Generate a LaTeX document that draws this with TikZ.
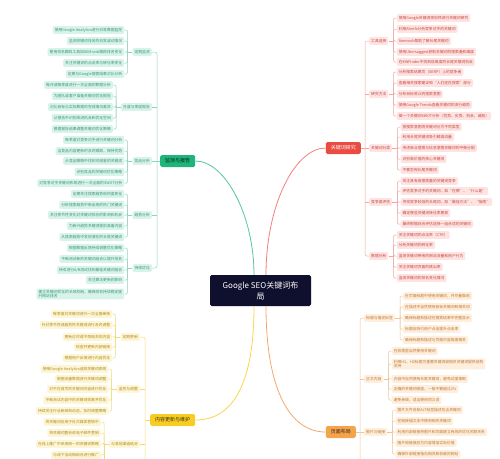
\documentclass[tikz,border=0pt]{standalone}
\usepackage{fontspec}
\setmainfont{Noto Sans CJK SC}
\usetikzlibrary{calc}
\definecolor{gfill}{HTML}{D8F3E9}
\definecolor{gtext}{HTML}{3A9777}
\definecolor{glinec}{HTML}{8FD6BE}
\definecolor{gmainc}{HTML}{1FB47A}
\definecolor{rfill}{HTML}{FDE3E1}
\definecolor{rtext}{HTML}{C9473F}
\definecolor{rlinec}{HTML}{F0A6A2}
\definecolor{rmainc}{HTML}{EA4B43}
\definecolor{yfill}{HTML}{FDF6D6}
\definecolor{ytext}{HTML}{B08A1A}
\definecolor{ylinec}{HTML}{F1DB78}
\definecolor{ymainc}{HTML}{F7CD25}
\definecolor{ofill}{HTML}{FDEEDD}
\definecolor{otext}{HTML}{C0782E}
\definecolor{olinec}{HTML}{F2C497}
\definecolor{omainc}{HTML}{F4A44C}
\definecolor{navy}{HTML}{0F0F2E}
\tikzset{
  leafbase/.style={rounded corners=1.2pt, inner xsep=2pt, inner ysep=1.4pt,
    minimum height=7.6pt, font=\fontsize{3.8}{4.6}\selectfont, align=left},
  gleaf/.style={leafbase, fill=gfill, text=gtext},
  glab/.style={leafbase, fill=gfill, text=gtext},
  gline/.style={draw=glinec, line width=0.5pt},
  rleaf/.style={leafbase, fill=rfill, text=rtext},
  rlab/.style={leafbase, fill=rfill, text=rtext},
  rline/.style={draw=rlinec, line width=0.5pt},
  yleaf/.style={leafbase, fill=yfill, text=ytext},
  ylab/.style={leafbase, fill=yfill, text=ytext},
  yline/.style={draw=ylinec, line width=0.5pt},
  oleaf/.style={leafbase, fill=ofill, text=otext},
  olab/.style={leafbase, fill=ofill, text=otext},
  oline/.style={draw=olinec, line width=0.5pt},
  mainbox/.style={rounded corners=1.6pt, inner xsep=5pt, inner ysep=2pt,
    minimum height=12pt, font=\fontsize{5}{6}\selectfont},
  centerbox/.style={rounded corners=1.6pt, fill=navy, text=white,
    minimum width=101pt, minimum height=31pt, align=center,
    font=\fontsize{8}{11}\selectfont},
  curve/.style={line width=0.8pt},
}
\newcommand\LeftGroup[6]{%
  \node[#5lab, anchor=east] (#1) at (#2,#3) {#4};
  \coordinate (#1b) at ($(#1.west)+(-5,0)$);
  \draw[#5line] (#1.west) -- (#1b);
  \foreach \yy/\leaftext [count=\i] in {#6}{%
    \node[#5leaf, anchor=east, yshift={(#3-\yy)*1pt}] (#1-\i) at ($(#1.west)+(-8,0)$) {\leaftext};
    \draw[#5line, rounded corners=1.2pt] (#1-\i.east) -| (#1b);
  }%
}
\newcommand\RightGroup[6]{%
  \node[#5lab, anchor=west] (#1) at (#2,#3) {#4};
  \coordinate (#1b) at ($(#1.east)+(5,0)$);
  \draw[#5line] (#1.east) -- (#1b);
  \foreach \yy/\leaftext [count=\i] in {#6}{%
    \node[#5leaf, anchor=west, yshift={(#3-\yy)*1pt}] (#1-\i) at ($(#1.east)+(8,0)$) {\leaftext};
    \draw[#5line, rounded corners=1.2pt] (#1-\i.west) -| (#1b);
  }%
}
\begin{document}
\begin{tikzpicture}[x=1pt,y=-1pt]
\fill[white] (0,0) rectangle (500,458);
\useasboundingbox (0,0) rectangle (500,458);

% centre and main branches
\node[centerbox] (c) at (260.5,290.5) {Google SEO关键词布\\局};
\node[mainbox, fill=gmainc, text=black!80!gmainc, anchor=west] (gmain) at (160,161) {监测与报告};
\node[mainbox, fill=rmainc, text=white, anchor=east] (rmain) at (361,148) {关键词研究};
\node[mainbox, fill=ymainc, text=black!75!ymainc, anchor=west] (ymain) at (150,420) {内容更新与维护};
\node[mainbox, fill=omainc, text=black!75!omainc, anchor=east] (omain) at (356,432) {页面布局};

\draw[curve, draw=gmainc!75] ([xshift=-6.5pt]c.north) .. controls (254,215) and (225,161) .. (gmain.east);
\draw[curve, draw=rmainc!70] ([xshift=5.5pt]c.north) .. controls (266,205) and (295,148) .. (rmain.west);
\draw[curve, draw=ymainc!80] ([xshift=-6.5pt]c.south) .. controls (254,380) and (235,420) .. (ymain.east);
\draw[curve, draw=omainc!80!rmainc!80] ([xshift=5.5pt]c.south) .. controls (266,390) and (290,432) .. (omain.west);

% ---------------- green: 监测与报告
\LeftGroup{g1}{152}{52}{定期监测}{g}{30/使用Google Analytics进行日常数据监控,41/监测关键词排名的日常波动情况,52/使用排名跟踪工具如SEMrush跟踪排名变化,63/关注关键词的点击率与转化率变化,74/定期与Google搜索结果对比分析}
\LeftGroup{g2}{152}{107}{月度与季度报告}{g}{85/每月或每季度进行一次全面的数据分析,96/为团队或客户准备关键词优化报告,107/对比目标与实际数据的完成情况差异,118/从报告中识别改进机会和优化空间,129/根据报告结果调整关键词优化策略}
\LeftGroup{g3}{152}{161}{竞品分析}{g}{140/每季度对竞争对手进行关键词分析,151/当竞品内容更新时及时跟踪，保持优势,161/从竞品策略中找到可借鉴的关键词,172/识别竞品的关键词优化策略,183/对竞争对手关键词布局进行一次全面的SWOT分析}
\LeftGroup{g4}{152}{215}{趋势分析}{g}{194/定期关注搜索趋势和热度变化,205/分析搜索趋势中新出现的热门关键词,215/关注季节性变化对关键词排名的影响和机会,226/为新兴趋势关键词提前准备内容,237/从搜索趋势中发现潜在的长尾关键词}
\LeftGroup{g5}{152}{268}{持续优化}{g}{248/根据数据反馈持续调整优化策略,259/不断测试新的关键词组合以提升排名,270/持续进行{A/B}测试找到最佳关键词组合,280/关注算法更新的影响,294/建立关键词优化的长效机制，确保排名持续稳定提\\升网站排名}
\coordinate (gtrunk) at ([xshift=-3pt]gmain.west);
\draw[gline, rounded corners=2pt] (g1.east) -| (gtrunk) |- (g5.east);
\draw[gline] (g2.east) -- (g2.east -| gtrunk);
\draw[gline] (g3.east) -- (g3.east -| gtrunk);
\draw[gline] (g4.east) -- (g4.east -| gtrunk);
\draw[gline] (gtrunk) -- (gmain.west);

% ---------------- red: 关键词研究
\RightGroup{r1}{369}{41}{工具选择}{r}{18/使用Google关键词规划师进行关键词研究,29/利用Ahrefs分析竞争对手的关键词,41/Semrush帮助了解长尾关键词,52/使用Ubersuggest获取关键词的搜索量和难度,62/在KWFinder中找到低难度的长尾关键词机会}
\RightGroup{r2}{369}{94}{研究方法}{r}{72/分析搜索结果页（SERP）上的竞争者,83/查看相关搜索建议和“人们还在搜索”部分,94/分析目标受众的搜索意图,105/使用Google Trends查看关键词的流行趋势,116/做一个关键词SWOT分析（优势、劣势、机会、威胁）}
\RightGroup{r3}{369}{148}{关键词分类}{r}{127/按搜索意图将关键词分为不同类型,137/利用长尾关键词吸引精准流量,148/考虑商业意图与信息意图关键词的平衡分配,159/识别高价值的核心关键词,170/不要忽视长尾关键词}
\RightGroup{r4}{369}{202}{竞争度评估}{r}{181/关注具有高搜索量的关键词竞争,191/评估竞争对手的关键词，如“在哪”、“什么是”,202/寻找竞争较低的长尾词，如“最佳方法”、“指南”,213/确定哪些关键词转化率更高,224/最终根据综合评估选择一组合适的关键词}
\RightGroup{r5}{369}{256}{数据分析}{r}{235/关注关键词的点击率（CTR）,245/分析关键词的转化率,256/监测关键词带来的网站流量和用户行为,267/关注关键词页面的跳出率,278/监测关键词的排名变化情况}
\coordinate (rtrunk) at ([xshift=4pt]rmain.east);
\draw[rline, rounded corners=2pt] (r1.west) -| (rtrunk) |- (r5.west);
\draw[rline] (r2.west) -- (r2.west -| rtrunk);
\draw[rline] (r3.west) -- (r3.west -| rtrunk);
\draw[rline] (r4.west) -- (r4.west -| rtrunk);
\draw[rline] (rtrunk) -- (rmain.east);

% ---------------- yellow: 内容更新与维护
\LeftGroup{y1}{140}{337}{定期更新}{y}{314/每季度对关键词进行一次全面审核,325/针对季节性或趋势性关键词进行及时调整,337/更新过时或不再相关的内容,347/检查并更新内部链接,358/根据用户反馈进行内容优化}
\LeftGroup{y2}{140}{389}{监控与调整}{y}{369/使用Google Analytics追踪关键词表现,379/根据流量数据进行关键词调整,389/对不在首页的关键词内容进行优化,400/不断测试内容中的关键词效果并优化,411/持续关注行业新闻和动态，及时调整策略}
\LeftGroup{y3}{140}{444}{与其他渠道结合}{y}{422/将关键词应用于社交媒体营销中,433/将关键词整合进电子邮件营销,444/在线上推广中采用统一的关键词策略,455/与线下活动相结合进行推广}
\coordinate (y3end) at ($(y3b)+(0,20)$);
\draw[yline] (y3b) -- (y3end);
\coordinate (ytrunk) at ([xshift=-5pt]ymain.west);
\coordinate (yend) at ($(ytrunk)+(0,45)$);
\draw[yline, rounded corners=2pt] (y1.east) -| (yend);
\draw[yline] (y2.east) -- (y2.east -| ytrunk);
\draw[yline] (y3.east) -- (y3.east -| ytrunk);
\draw[yline] (ytrunk) -- (ymain.west);

% ---------------- orange: 页面布局
\RightGroup{o1}{364}{318}{标题与描述标签}{o}{296/在页面标题中使用关键词，并尽量靠前,307/在描述中自然使用目标关键词和相关词,318/确保标题和描述在搜索结果中完整显示,329/标题应吸引用户点击提升点击率,340/确保标题和描述与页面内容高度相关}
\RightGroup{o2}{364}{379}{正文内容}{o}{351/在段落里自然使用关键词,364/利用H1、H2标题为重要关键词或相关关键词提供结构\\支持,379/内容中自然使用长尾关键词，避免过度堆砌,389/正确的关键词密度，一般不要超过2\%,400/避免单调，适当使用同义词}
\RightGroup{o3}{364}{432}{图片与链接}{o}{410/图片文件名和ALT标签描述包含关键词,421/在链接锚文本中使用相关关键词,432/利用内部链接将图片和页面建立有效的优化关联关系,443/图片和链接应为内容增加实际价值,454/确保外部链接指向相关和权威的网站}
\coordinate (otrunk) at ([xshift=4pt]omain.east);
\coordinate (oend) at ($(otrunk)+(0,35)$);
\draw[oline, rounded corners=2pt] (o1.west) -| (oend);
\draw[oline] (o2.west) -- (o2.west -| otrunk);
\draw[oline] (o3.west) -- (o3.west -| otrunk);
\draw[oline] (otrunk) -- (omain.east);
\end{tikzpicture}
\end{document}
